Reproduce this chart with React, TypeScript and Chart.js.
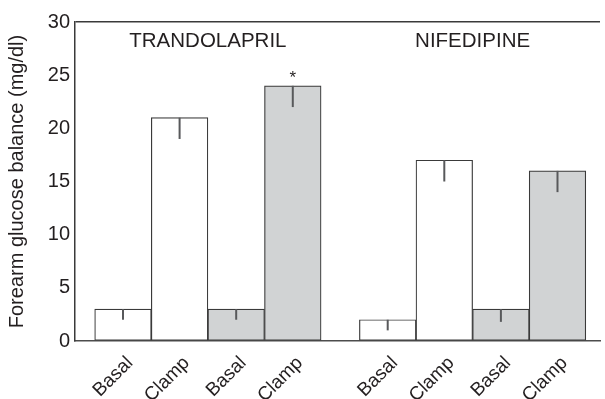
import React, { useEffect, useRef } from "react";
import { Chart, registerables } from "chart.js";

Chart.register(...registerables);

// ---- data ----
const groups = ["TRANDOLAPRIL", "NIFEDIPINE"];
const categories = ["Basal", "Clamp", "Basal", "Clamp", "Basal", "Clamp", "Basal", "Clamp"];
const groupOf = [0, 0, 0, 0, 1, 1, 1, 1];
const shaded = [false, false, true, true, false, false, true, true];
const values = [3, 21, 3, 24, 2, 17, 3, 16];
const errors = [1, 2, 1, 2, 1, 2, 1.2, 2];
const significant = [false, false, false, true, false, false, false, false];
const yTicks = [0, 5, 10, 15, 20, 25, 30];

// ---- layout / style ----
const GROUP_STRIDE = 4.677;
const FONT = '"Liberation Sans", Arial, Helvetica, sans-serif';
const TEXT = "#231f20";
const GRAY = "#d1d3d4";
const positions = categories.map((_, i) => groupOf[i] * GROUP_STRIDE + (i % 4));

const overlayPlugin = {
  id: "overlay",
  afterDatasetsDraw(chart: any) {
    const { ctx } = chart;
    const ys = chart.scales.y;
    const xs = chart.scales.x;
    const meta = chart.getDatasetMeta(0);
    ctx.save();
    // error bars (downward only)
    ctx.strokeStyle = "#58595b";
    ctx.lineWidth = 2;
    meta.data.forEach((el: any, i: number) => {
      const yTop = ys.getPixelForValue(values[i]);
      const yLow = ys.getPixelForValue(values[i] - errors[i]);
      ctx.beginPath();
      ctx.moveTo(el.x, yTop);
      ctx.lineTo(el.x, yLow);
      ctx.stroke();
    });
    // significance marks
    ctx.fillStyle = TEXT;
    ctx.font = `17px ${FONT}`;
    ctx.textAlign = "center";
    ctx.textBaseline = "alphabetic";
    meta.data.forEach((el: any, i: number) => {
      if (significant[i]) {
        ctx.fillText("*", el.x, ys.getPixelForValue(values[i]) - 3);
      }
    });
    // group labels
    ctx.font = `20.5px ${FONT}`;
    groups.forEach((g, gi) => {
      const idx = positions.filter((_, i) => groupOf[i] === gi);
      const cx = (xs.getPixelForValue(idx[0]) + xs.getPixelForValue(idx[idx.length - 1])) / 2;
      ctx.fillText(g, cx, ys.getPixelForValue(30) + 24.5);
    });
    ctx.restore();
  },
};

export default function App() {
  const ref = useRef<HTMLCanvasElement>(null);
  useEffect(() => {
    document.body.style.margin = "0";
    const chart = new Chart(ref.current as HTMLCanvasElement, {
      type: "bar",
      data: {
        datasets: [
          {
            data: values.map((v, i) => ({ x: positions[i], y: v })) as any,
            backgroundColor: shaded.map((s) => (s ? GRAY : "#ffffff")),
            borderColor: "#3a3a3a",
            borderWidth: 1.2,
            borderSkipped: false,
            barThickness: 56.6,
            grouped: false,
          } as any,
        ],
      },
      options: {
        responsive: false,
        animation: false,
        layout: { padding: { top: 22, right: 5, left: 0, bottom: 0 } },
        plugins: { legend: { display: false }, tooltip: { enabled: false } },
        scales: {
          x: {
            type: "linear",
            offset: false,
            min: -0.848,
            max: 8.428,
            grid: { display: false, offset: false },
            border: { display: true, color: "#4d4d4d", width: 1.5 },
            afterBuildTicks: (scale: any) => {
              scale.ticks = positions.map((v) => ({ value: v }));
            },
            afterFit: (scale: any) => {
              scale.height = 58;
            },
            ticks: {
              autoSkip: false,
              minRotation: 45,
              maxRotation: 45,
              padding: 3,
              labelOffset: 7,
              color: TEXT,
              font: { family: FONT, size: 19 },
              callback: (_v: any, i: number) => categories[i],
            },
          },
          y: {
            min: 0,
            max: 30,
            afterBuildTicks: (scale: any) => {
              scale.ticks = yTicks.map((v) => ({ value: v }));
            },
            afterFit: (scale: any) => {
              scale.width = 75;
            },
            grid: {
              display: true,
              drawTicks: false,
              color: (c: any) => (c.tick && c.tick.value === 30 ? "#3a3a3a" : "rgba(0,0,0,0)"),
              lineWidth: 1.5,
            },
            border: { display: true, color: "#3a3a3a", width: 1.5 },
            ticks: {
              padding: 5,
              color: TEXT,
              font: { family: FONT, size: 20 },
            },
            title: {
              display: true,
              text: "Forearm glucose balance (mg/dl)",
              color: TEXT,
              font: { family: FONT, size: 20 },
              padding: { top: 5, bottom: 0 },
            },
          },
        },
      } as any,
      plugins: [overlayPlugin],
    });
    return () => chart.destroy();
  }, []);
  return (
    <div style={{ width: 605, height: 399 }}>
      <canvas ref={ref} width={605} height={399} />
    </div>
  );
}
